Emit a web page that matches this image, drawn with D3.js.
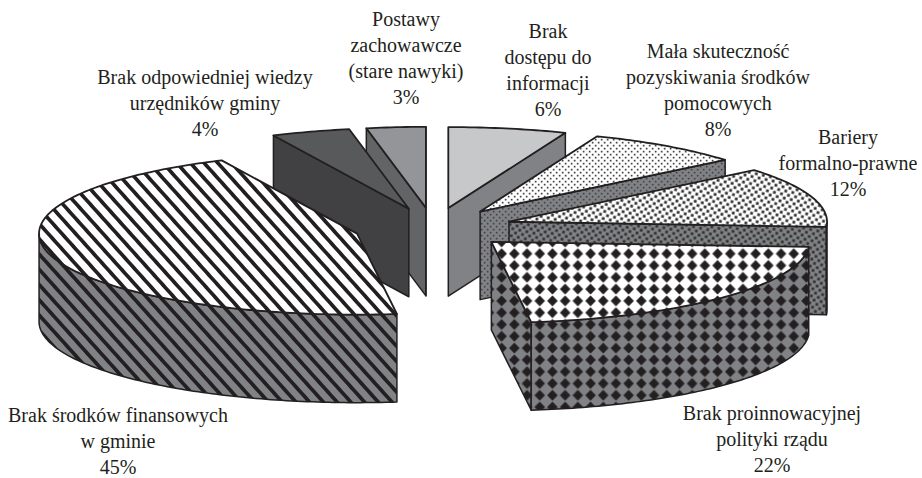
<!DOCTYPE html>
<html>
<head>
<meta charset="utf-8">
<script src="https://cdn.jsdelivr.net/npm/d3@7"></script>
<style>
html, body { margin: 0; padding: 0; background: #fff; }
text { font-family: "Liberation Serif", serif; font-size: 20px; fill: #231f20; }
</style>
</head>
<body>
<svg></svg>
<script>
// clockwise from 12 o'clock, as in the original
const categories = [
	['Brak', 'dostępu do', 'informacji'],
	['Mała skuteczność', 'pozyskiwania środków', 'pomocowych'],
	['Bariery', 'formalno-prawne'],
	['Brak proinnowacyjnej', 'polityki rządu'],
	['Brak środków finansowych', 'w gminie'],
	['Brak odpowiedniej wiedzy', 'urzędników gminy'],
	['Postawy', 'zachowawcze', '(stare nawyki)']
];
const percents = [6, 8, 12, 22, 45, 4, 3];

const width = 922,
	height = 478,
	cx = 433.4,
	cy = 228,
	rx = 318,
	ry = 81,
	depth = 88,
	explode = 0.25,
	lineHeight = 26,
	ink = '#231f20',
	wallGrey = '#808285';

const topFills = ['#c7c8ca', 'url(#dots-top)', 'url(#checks-top)', 'url(#diamonds-top)', 'url(#stripes-top)', '#58595b', '#939598'],
	wallFills = [wallGrey, 'url(#dots-wall)', 'url(#checks-wall)', 'url(#diamonds-wall)', 'url(#stripes-wall)', '#414042', '#636466'];

// label centre x and first baseline
const labelX = [548, 718, 848, 772, 118, 205, 406],
	labelY = [38, 58, 144, 420, 421.5, 84, 26];

// back slices first so the front ones cover them
const paintOrder = [0, 1, 2, 3, 6, 5, 4];

const svg = d3.select('svg')
	.attr('width', width)
	.attr('height', height)
	.style('display', 'block');

const xScale = d3.scaleLinear().domain([-1, 1]).range([cx - rx, cx + rx]),
	yScale = d3.scaleLinear().domain([-1, 1]).range([cy - ry, cy + ry]);

const defs = svg.append('defs');

const addPattern = (id, w, h, bg, transform) => {
	const p = defs.append('pattern')
		.attr('id', id)
		.attr('patternUnits', 'userSpaceOnUse')
		.attr('width', w)
		.attr('height', h);
	if (transform) p.attr('patternTransform', transform);
	p.append('rect').attr('width', w).attr('height', h).attr('fill', bg);
	return p;
};

[['top', '#fff'], ['wall', wallGrey]].forEach(([suffix, bg]) => {
	addPattern(`stripes-${suffix}`, 10.2, 10.2, bg, 'rotate(-42)')
		.append('rect').attr('width', 3.7).attr('height', 10.2).attr('fill', ink);

	const diamonds = addPattern(`diamonds-${suffix}`, 12.7, 11.8, bg);
	diamonds.append('path')
		.attr('d', 'M6.35,0.8 L11.3,5.9 L6.35,11 L1.4,5.9 Z')
		.attr('fill', ink)
		.attr('stroke', ink)
		.attr('stroke-width', 0.6)
		.attr('stroke-linejoin', 'round');

	const checks = addPattern(`checks-${suffix}`, 7.2, 7.2, bg, 'rotate(12)');
	checks.append('rect').attr('x', 0.5).attr('y', 0.5).attr('width', 2.8).attr('height', 2.8).attr('fill', '#333');
	checks.append('rect').attr('x', 4.1).attr('y', 4.1).attr('width', 2.8).attr('height', 2.8).attr('fill', '#333');

	const dots = addPattern(`dots-${suffix}`, 6, 6, bg);
	dots.append('rect').attr('x', 0.8).attr('y', 0.8).attr('width', 1.7).attr('height', 1.7).attr('fill', '#444');
	dots.append('rect').attr('x', 3.8).attr('y', 3.8).attr('width', 1.7).attr('height', 1.7).attr('fill', '#444');
});

const slices = d3.pie().sort(null).value(d => d)(percents);

const g = svg.append('g');

const line = d3.line().x(d => d[0]).y(d => d[1]);

slices.forEach(s => {
	s.mid = (s.startAngle + s.endAngle) / 2;
	s.ox = explode * Math.sin(s.mid);
	s.oy = -explode * Math.cos(s.mid);
});

const project = (s, radius, angle, drop) => [
	xScale(s.ox + radius * Math.sin(angle)),
	yScale(s.oy - radius * Math.cos(angle)) + drop
];

const rim = (s, a0, a1, drop) => {
	const n = Math.max(2, Math.ceil((a1 - a0) * 60));
	return d3.range(n + 1).map(i => project(s, 1, a0 + (a1 - a0) * i / n, drop));
};

const addFace = (points, fill, strokeWidth) => g.append('path')
	.attr('d', line(points) + 'Z')
	.attr('fill', fill)
	.attr('stroke', ink)
	.attr('stroke-width', strokeWidth)
	.attr('stroke-linejoin', 'round');

const radialWall = (s, angle) => [
	project(s, 0, 0, 0),
	project(s, 1, angle, 0),
	project(s, 1, angle, depth),
	project(s, 0, 0, depth)
];

paintOrder.forEach(i => {
	const s = slices[i];

	// only the walls that face the viewer
	if (Math.sin(s.startAngle) < 0) addFace(radialWall(s, s.startAngle), wallFills[i], 1.5);
	if (Math.sin(s.endAngle) > 0) addFace(radialWall(s, s.endAngle), wallFills[i], 1.5);

	const a0 = Math.max(s.startAngle, Math.PI / 2),
		a1 = Math.min(s.endAngle, Math.PI * 1.5);
	if (a1 > a0) {
		addFace(rim(s, a0, a1, 0).concat(rim(s, a0, a1, depth).reverse()), wallFills[i], 1.5);
	}

	addFace([project(s, 0, 0, 0)].concat(rim(s, s.startAngle, s.endAngle, 0)), topFills[i], 1.8);
});

// Labels
const labels = svg.append('g').attr('text-anchor', 'middle');

categories.forEach((lines, i) => {
	lines.concat(`${percents[i]}%`).forEach((t, j) => {
		labels.append('text')
			.attr('x', labelX[i])
			.attr('y', labelY[i] + j * lineHeight)
			.text(t);
	});
});
</script>
</body>
</html>
